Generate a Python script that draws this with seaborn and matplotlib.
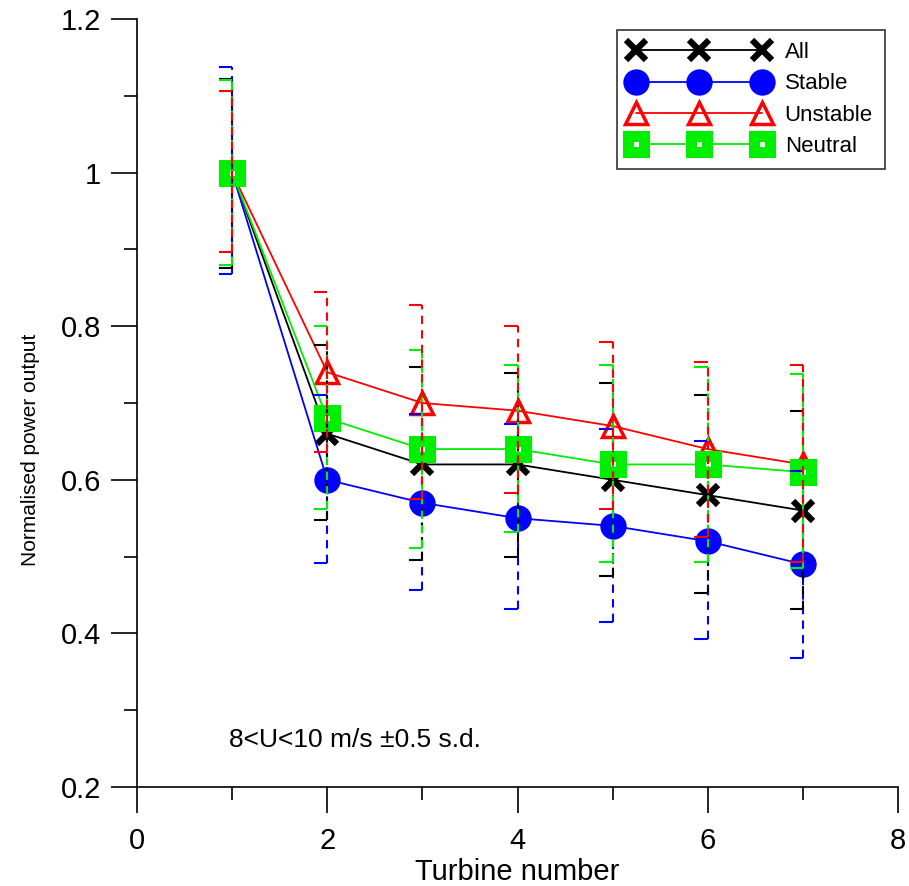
import numpy as np
import pandas as pd
import matplotlib
matplotlib.use("Agg")
import matplotlib.pyplot as plt
import seaborn as sns
from matplotlib.ticker import MultipleLocator

# turbine positions along the row
turbines = [1, 2, 3, 4, 5, 6, 7]

# mean normalised power per stability class
all_mean = [1.0, 0.66, 0.62, 0.62, 0.60, 0.58, 0.56]
stable_mean = [1.0, 0.60, 0.57, 0.55, 0.54, 0.52, 0.49]
unstable_mean = [1.0, 0.74, 0.70, 0.69, 0.67, 0.64, 0.62]
neutral_mean = [1.0, 0.68, 0.64, 0.64, 0.62, 0.62, 0.61]

# error bar ends (+/- 0.5 s.d.)
all_hi = [1.122, 0.775, 0.747, 0.739, 0.726, 0.711, 0.690]
all_lo = [0.876, 0.548, 0.496, 0.500, 0.475, 0.453, 0.432]
stable_hi = [1.137, 0.711, 0.686, 0.673, 0.666, 0.650, 0.612]
stable_lo = [0.868, 0.492, 0.457, 0.432, 0.415, 0.393, 0.368]
unstable_hi = [1.106, 0.844, 0.827, 0.800, 0.779, 0.754, 0.750]
unstable_lo = [0.896, 0.636, 0.575, 0.583, 0.562, 0.526, 0.493]
neutral_hi = [1.120, 0.800, 0.769, 0.750, 0.750, 0.747, 0.738]
neutral_lo = [0.880, 0.562, 0.511, 0.532, 0.493, 0.493, 0.485]

labels = ["All", "Stable", "Unstable", "Neutral"]

sns.set_style("ticks")
plt.rcParams["font.family"] = ["Liberation Sans", "DejaVu Sans"]
plt.rcParams["text.color"] = "black"
plt.rcParams["axes.labelcolor"] = "black"
plt.rcParams["xtick.color"] = "black"
plt.rcParams["ytick.color"] = "black"

fig = plt.figure(figsize=(9.09, 8.86), dpi=100)
ax = fig.add_axes([137 / 909, 1 - 787 / 886, (898 - 137) / 909, (787 - 19) / 886])

green = "#00ee00"
styles = {
    "All": dict(color="black", marker="x", markersize=15, markeredgewidth=4.5,
                markeredgecolor="black"),
    "Stable": dict(color="blue", marker="o", markersize=19, markeredgewidth=0,
                   markeredgecolor="blue"),
    "Unstable": dict(color="red", marker="^", markersize=15.5, markeredgewidth=2.5,
                     markerfacecolor="none", markeredgecolor="red"),
    "Neutral": dict(color=green, marker="s", markersize=12, markeredgewidth=8,
                    markerfacecolor="white", markeredgecolor=green),
}
means = {"All": all_mean, "Stable": stable_mean, "Unstable": unstable_mean, "Neutral": neutral_mean}
his = {"All": all_hi, "Stable": stable_hi, "Unstable": unstable_hi, "Neutral": neutral_hi}
los = {"All": all_lo, "Stable": stable_lo, "Unstable": unstable_lo, "Neutral": neutral_lo}

for name in labels:
    df = pd.DataFrame({"turbine": turbines, "power": means[name]})
    sns.lineplot(data=df, x="turbine", y="power", ax=ax, label=name, legend=False,
                 linewidth=1.3, zorder=3, **styles[name])

# dashed error bars with left half caps, drawn over the markers
cap = 0.14
for name, z in [("Stable", 4), ("All", 5), ("Neutral", 6), ("Unstable", 7)]:
    col = styles[name]["color"]
    x = np.array(turbines)
    ax.vlines(x, los[name], his[name], colors=col, linestyles=(0, (4, 3)), linewidth=1.5, zorder=z)
    ax.hlines(his[name], x - cap, x, colors=col, linewidth=1.5, zorder=z)
    ax.hlines(los[name], x - cap, x, colors=col, linewidth=1.5, zorder=z)

ax.set_xlim(0, 8)
ax.set_ylim(0.2, 1.2)
ax.xaxis.set_minor_locator(MultipleLocator(1))
ax.yaxis.set_minor_locator(MultipleLocator(0.1))
ax.set_xticks([0, 2, 4, 6, 8])
ax.set_xticklabels(["0", "2", "4", "6", "8"])
ax.set_yticks([0.2, 0.4, 0.6, 0.8, 1.0, 1.2])
ax.set_yticklabels(["0.2", "0.4", "0.6", "0.8", "1", "1.2"])
ax.tick_params(which="major", length=19, width=1.2, labelsize=21)
ax.tick_params(axis="x", which="major", pad=10)
ax.tick_params(axis="y", which="major", pad=7)
ax.tick_params(which="minor", length=9.5, width=1.2)
sns.despine(ax=ax)
for s in ["left", "bottom"]:
    ax.spines[s].set_linewidth(1.2)
    ax.spines[s].set_color("black")

ax.set_xlabel("Turbine number", fontsize=21)
ax.xaxis.set_label_coords(0.5, -0.092)
ax.set_ylabel("Normalised power output", fontsize=15)
ax.yaxis.set_label_coords(-0.127, 0.439)

ax.text(0.97, 0.261, "8<U<10 m/s \u00b10.5 s.d.", fontsize=19, va="center", ha="left")

leg = ax.legend(loc="upper right", bbox_to_anchor=(885 / 909, 1 - 30 / 886),
                bbox_transform=fig.transFigure, borderaxespad=0, numpoints=3,
                handlelength=6.3, handletextpad=0.7, fontsize=16, frameon=True,
                fancybox=False, labelspacing=0.46, borderpad=0.55)
leg.get_frame().set_edgecolor("black")
leg.get_frame().set_linewidth(1.2)

fig.savefig("out.png", dpi=100)
